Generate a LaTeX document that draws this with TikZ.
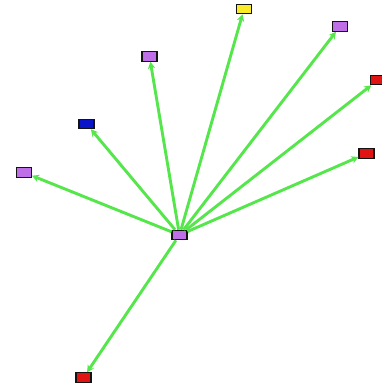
\documentclass[tikz,border=0pt]{standalone}
\usetikzlibrary{arrows.meta}
\definecolor{edgegreen}{RGB}{85,230,75}
\definecolor{boxpurple}{RGB}{190,110,230}
\definecolor{boxred}{RGB}{225,20,20}
\definecolor{boxblue}{RGB}{10,20,200}
\definecolor{boxyellow}{RGB}{250,235,40}
\tikzset{
  vbox/.style={draw=black!85!gray, line width=1.1pt, minimum width=15pt, minimum height=9.5pt, inner sep=0pt},
  link/.style={draw=edgegreen, line width=2.9pt, -{Stealth[length=7pt,width=7.5pt]}}
}
\begin{document}
\begin{tikzpicture}[x=1pt,y=-1pt]
\useasboundingbox (0,0) rectangle (381,389);
\node[vbox, fill=boxpurple] (c) at (179.5,235) {};
\node[vbox, fill=boxyellow] (y) at (244,9) {};
\node[vbox, fill=boxpurple] (p1) at (340,26.5) {};
\node[vbox, fill=boxred] (r1) at (378,80) {};
\node[vbox, fill=boxpurple] (p2) at (149.5,56.5) {};
\node[vbox, fill=boxblue] (b) at (86.5,124) {};
\node[vbox, fill=boxpurple] (p3) at (24,172.5) {};
\node[vbox, fill=boxred] (r2) at (366.5,153.5) {};
\node[vbox, fill=boxred] (r3) at (83.5,377.5) {};
\foreach \t in {y,p1,r1,p2,b,p3,r2,r3}
  \draw[link] (c) -- (\t);
\end{tikzpicture}
\end{document}
